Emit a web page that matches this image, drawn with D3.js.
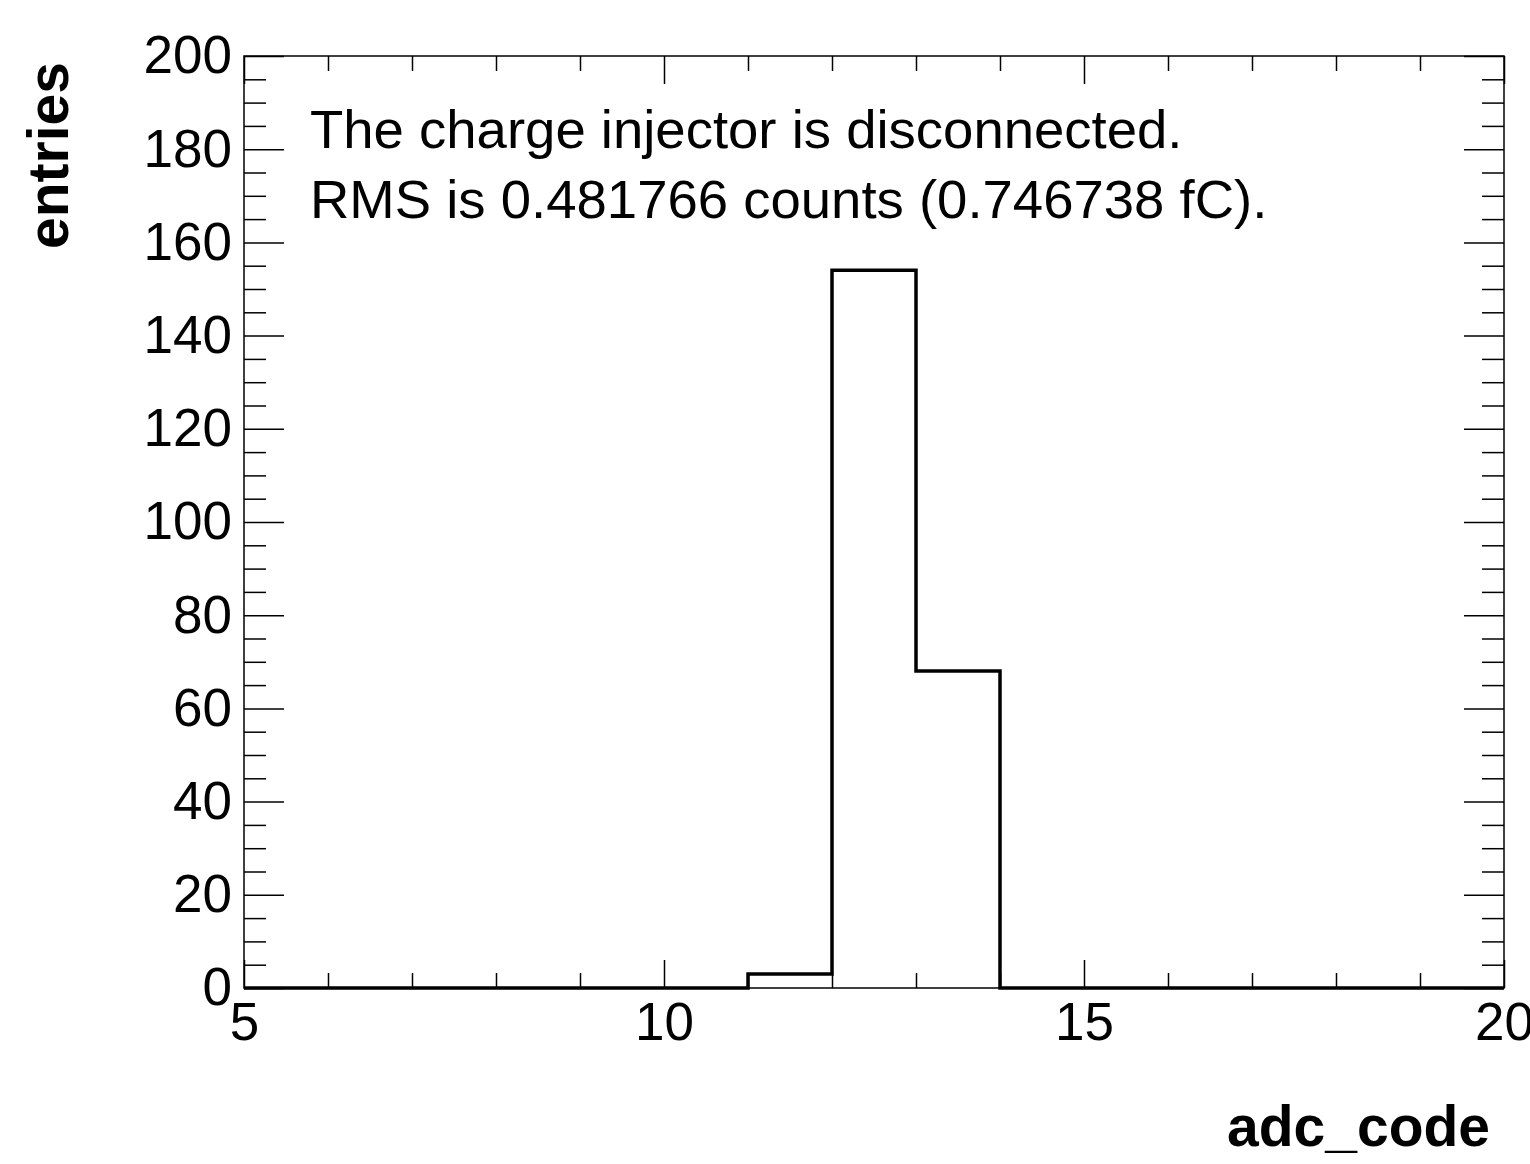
<!DOCTYPE html>
<html>
<head>
<meta charset="utf-8">
<script src="https://cdn.jsdelivr.net/npm/d3@7"></script>
<style>
  html, body { margin: 0; padding: 0; background: #fff; }
  svg { display: block; font-family: 'Liberation Sans', Arial, Helvetica, sans-serif; }
</style>
</head>
<body>
<div id="chart"></div>
<script>
// histogram bins (adc_code), width 1
const BIN_LOW = [5, 6, 7, 8, 9, 10, 11, 12, 13, 14, 15, 16, 17, 18, 19]
const COUNTS  = [0, 0, 0, 0, 0, 0, 3, 154, 68, 0, 0, 0, 0, 0, 0]
const X_MAJOR = [5, 10, 15, 20]
const Y_MAJOR = [0, 20, 40, 60, 80, 100, 120, 140, 160, 180, 200]
const NOTE_LINES = [
  'The charge injector is disconnected.',
  'RMS is 0.481766 counts (0.746738 fC).',
]
const X_TITLE = 'adc_code'
const Y_TITLE = 'entries'

const W = 1530, H = 1164
const M = { top: 56, right: 26, bottom: 176, left: 244 }
const iw = W - M.left - M.right
const ih = H - M.top - M.bottom

const svg = d3.select('#chart').append('svg')
  .attr('width', W).attr('height', H)
  .attr('viewBox', `0 0 ${W} ${H}`)

const x = d3.scaleLinear().domain([5, 20]).range([0, iw])
const y = d3.scaleLinear().domain([0, 200]).range([ih, 0])

const g = svg.append('g').attr('transform', `translate(${M.left},${M.top})`)

const xMinor = d3.range(5, 21, 1).filter(v => !X_MAJOR.includes(v))
const yMinor = d3.range(0, 201, 5).filter(v => !Y_MAJOR.includes(v))

function styleAxis(sel) {
  sel.select('.domain').remove()
  sel.selectAll('line').attr('stroke', '#000').attr('stroke-width', 1.5)
  sel.selectAll('text').attr('fill', '#000').attr('font-size', 53)
}

// bottom axis with labels
g.append('g').attr('transform', `translate(0,${ih})`)
  .call(d3.axisBottom(x).tickValues(X_MAJOR).tickSize(-28).tickPadding(14).tickFormat(d3.format('d')))
  .call(styleAxis)
  .call(s => s.selectAll('text').attr('dy', '0.71em'))
g.append('g').attr('transform', `translate(0,${ih})`)
  .call(d3.axisBottom(x).tickValues(xMinor).tickSize(-15).tickFormat(''))
  .call(styleAxis)
// top axis ticks
g.append('g')
  .call(d3.axisTop(x).tickValues(X_MAJOR).tickSize(-28).tickFormat(''))
  .call(styleAxis)
g.append('g')
  .call(d3.axisTop(x).tickValues(xMinor).tickSize(-15).tickFormat(''))
  .call(styleAxis)

// left axis with labels
g.append('g')
  .call(d3.axisLeft(y).tickValues(Y_MAJOR).tickSize(-40).tickPadding(12).tickFormat(d3.format('d')))
  .call(styleAxis)
g.append('g')
  .call(d3.axisLeft(y).tickValues(yMinor).tickSize(-22).tickFormat(''))
  .call(styleAxis)
// right axis ticks
g.append('g').attr('transform', `translate(${iw},0)`)
  .call(d3.axisRight(y).tickValues(Y_MAJOR).tickSize(-40).tickFormat(''))
  .call(styleAxis)
g.append('g').attr('transform', `translate(${iw},0)`)
  .call(d3.axisRight(y).tickValues(yMinor).tickSize(-22).tickFormat(''))
  .call(styleAxis)

// histogram outline (step line over full range)
const pts = []
BIN_LOW.forEach((lo, i) => {
  pts.push([x(lo), y(COUNTS[i])])
  pts.push([x(lo + 1), y(COUNTS[i])])
})
g.append('path')
  .attr('d', d3.line()(pts))
  .attr('fill', 'none')
  .attr('stroke', '#000')
  .attr('stroke-width', 3.5)
  .attr('stroke-linejoin', 'miter')

// frame
g.append('rect')
  .attr('x', 0).attr('y', 0).attr('width', iw).attr('height', ih)
  .attr('fill', 'none').attr('stroke', '#000').attr('stroke-width', 1.5)

// note text
g.selectAll('text.note').data(NOTE_LINES).join('text')
  .attr('class', 'note')
  .attr('x', 66)
  .attr('y', (d, i) => 92 + i * 70)
  .attr('font-size', 54.5)
  .attr('fill', '#000')
  .text(d => d)

// axis titles
svg.append('text')
  .attr('x', 1490).attr('y', 1146)
  .attr('text-anchor', 'end')
  .attr('font-size', 57).attr('font-weight', 'bold')
  .text(X_TITLE)

svg.append('text')
  .attr('transform', 'translate(68,62) rotate(-90)')
  .attr('text-anchor', 'end')
  .attr('font-size', 57).attr('font-weight', 'bold')
  .text(Y_TITLE)
</script>
</body>
</html>
